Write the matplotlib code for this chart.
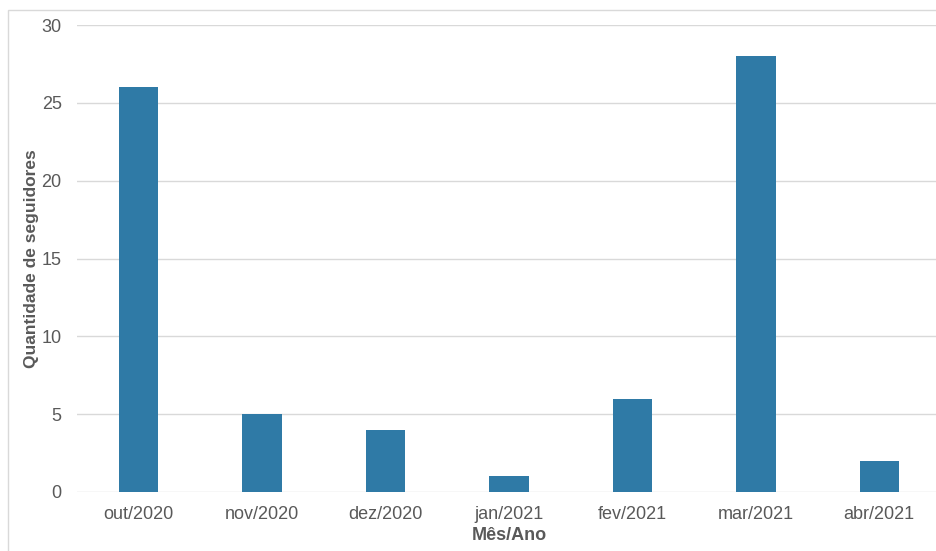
import matplotlib
matplotlib.use("Agg")
import matplotlib.pyplot as plt
from matplotlib.patches import Rectangle

plt.rcParams["font.family"] = ["Liberation Sans", "DejaVu Sans"]

meses = ["out/2020", "nov/2020", "dez/2020", "jan/2021", "fev/2021", "mar/2021", "abr/2021"]
seguidores = [26, 5, 4, 1, 6, 28, 2]
y_ticks = [0, 5, 10, 15, 20, 25, 30]

bar_color = "#2f7aa6"
text_color = "#595959"
grid_color = "#d9d9d9"

fig = plt.figure(figsize=(9.37, 5.51), dpi=100)
ax = fig.add_axes([77 / 937, (551 - 492) / 551, (941 - 77) / 937, (492 - 25) / 551])

x = range(len(meses))
ax.bar(x, seguidores, width=0.32, color=bar_color, zorder=3)

ax.set_xlim(-0.5, len(meses) - 0.5)
ax.set_ylim(0, 30)
ax.set_yticks(y_ticks)
ax.set_xticks(list(x))
ax.set_xticklabels(meses)

ax.grid(axis="y", color=grid_color, linewidth=1, zorder=0)
for s in ax.spines.values():
    s.set_visible(False)
ax.tick_params(axis="both", length=0, colors=text_color, labelsize=13)
ax.tick_params(axis="y", pad=11)
ax.tick_params(axis="x", pad=10)

ax.set_xlabel("Mês/Ano", fontsize=13, fontweight="bold", color=text_color, labelpad=3)
ax.set_ylabel("Quantidade de seguidores", fontsize=12.5, fontweight="bold", color=text_color, labelpad=2)

# light outer frame
fig.patches.append(Rectangle((8 / 937, -0.1), 1.2, (551 - 10) / 551 + 0.1,
                             transform=fig.transFigure, fill=False,
                             edgecolor="#d9d9d9", linewidth=1))

fig.savefig("out.png", dpi=100)
